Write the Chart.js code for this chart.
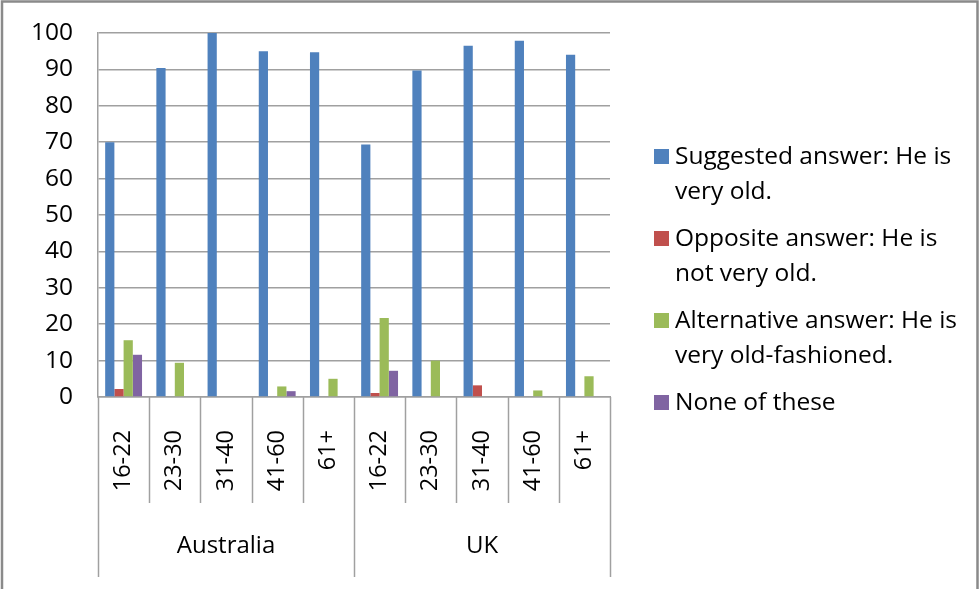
<!DOCTYPE html>
<html>
<head>
<meta charset="utf-8">
<script src="https://cdn.jsdelivr.net/npm/chart.js@4/dist/chart.umd.min.js"></script>
<style>
  html, body { margin: 0; padding: 0; background: #fff; }
  #wrap { width: 979px; height: 589px; }
</style>
</head>
<body>
<div id="wrap"><canvas id="grafik" width="979" height="589"></canvas></div>
<script>
// age bands, repeated for each country
var ageGroups = ['16-22', '23-30', '31-40', '41-60', '61+'];
var countries = ['Australia', 'UK'];

// answers in percent, Australia first then UK
var suggested   = [70, 90.4, 100, 95, 94.7,   69.4, 89.7, 96.5, 97.9, 94];
var opposite    = [2.2, 0, 0, 0, 0,            1.1, 0, 3.2, 0, 0];
var alternative = [15.6, 9.4, 0, 2.9, 5,       21.7, 10, 0, 1.8, 5.7];
var noneOfThese = [11.6, 0, 0, 1.6, 0,         7.2, 0, 0, 0, 0];

var yTicks = [0, 10, 20, 30, 40, 50, 60, 70, 80, 90, 100];

var legendLines = [
  ['Suggested answer: He is', 'very old.'],
  ['Opposite answer: He is', 'not very old.'],
  ['Alternative answer: He is', 'very old-fashioned.'],
  ['None of these']
];
var warna = ['#4F81BD', '#C0504D', '#9BBB59', '#8064A2'];

var FONT = '"Open Sans", sans-serif';
var labels = [];
countries.forEach(function () { ageGroups.forEach(function (a) { labels.push(a); }); });

// separators under the axis + country names + legend on the right
var hiasan = {
  id: 'hiasan',
  afterDraw: function (chart) {
    var ctx = chart.ctx;
    var x = chart.scales.x;
    var n = labels.length;
    var step = x.width / n;
    ctx.save();
    ctx.strokeStyle = '#a0a0a0';
    ctx.lineWidth = 1.5;
    for (var i = 0; i <= n; i++) {
      var px = Math.round(x.left + i * step) + 0.5;
      var bawah = (i % ageGroups.length === 0) ? 577 : 503;
      ctx.beginPath();
      ctx.moveTo(px, x.top);
      ctx.lineTo(px, bawah);
      ctx.stroke();
    }
    ctx.fillStyle = '#000';
    ctx.font = '24px ' + FONT;
    ctx.textAlign = 'center';
    ctx.textBaseline = 'middle';
    countries.forEach(function (c, k) {
      var cx = x.left + (k + 0.5) * ageGroups.length * step;
      ctx.fillText(c, cx, 546);
    });

    // legend
    ctx.font = '24.5px ' + FONT;
    ctx.textAlign = 'left';
    var y = 157;
    chart.data.datasets.forEach(function (ds, k) {
      ctx.fillStyle = ds.backgroundColor;
      ctx.fillRect(654, y - 8, 15, 15);
      ctx.fillStyle = '#000';
      legendLines[k].forEach(function (t, j) {
        ctx.fillText(t, 675, y + j * 35);
      });
      y += legendLines[k].length === 2 ? 82 : 35;
    });

    // frame
    ctx.strokeStyle = '#8a8a8a';
    ctx.lineWidth = 2.5;
    ctx.strokeRect(2, 1.5, 975.5, 600);
    ctx.restore();
  }
};

var grafik = new Chart(document.getElementById('grafik').getContext('2d'), {
  type: 'bar',
  data: {
    labels: labels,
    datasets: [
      { label: legendLines[0].join(' '), data: suggested,   backgroundColor: warna[0] },
      { label: legendLines[1].join(' '), data: opposite,    backgroundColor: warna[1] },
      { label: legendLines[2].join(' '), data: alternative, backgroundColor: warna[2] },
      { label: legendLines[3].join(' '), data: noneOfThese, backgroundColor: warna[3] }
    ]
  },
  options: {
    responsive: false,
    animation: false,
    layout: { padding: { top: 33, right: 369, left: 0, bottom: 0 } },
    datasets: { bar: { categoryPercentage: 0.72, barPercentage: 1 } },
    plugins: { legend: { display: false }, tooltip: { enabled: false } },
    scales: {
      x: {
        grid: { display: false },
        border: { display: true, color: '#a0a0a0', width: 1.5 },
        ticks: {
          minRotation: 90, maxRotation: 90, padding: 25,
          color: '#000', font: { family: FONT, size: 23.5 }
        },
        afterFit: function (s) { s.height = 192; s.paddingLeft = 0; s.paddingRight = 0; }
      },
      y: {
        min: 0, max: 100,
        afterBuildTicks: function (s) { s.ticks = yTicks.map(function (v) { return { value: v }; }); },
        grid: { color: '#a0a0a0', lineWidth: 1.5, drawTicks: false },
        border: { display: true, color: '#a0a0a0', width: 1.5 },
        ticks: { padding: 25, color: '#000', font: { family: FONT, size: 24.5 } },
        afterFit: function (s) { s.width = 98; s.paddingTop = 0; s.paddingBottom = 0; }
      }
    }
  },
  plugins: [hiasan]
});
</script>
</body>
</html>
